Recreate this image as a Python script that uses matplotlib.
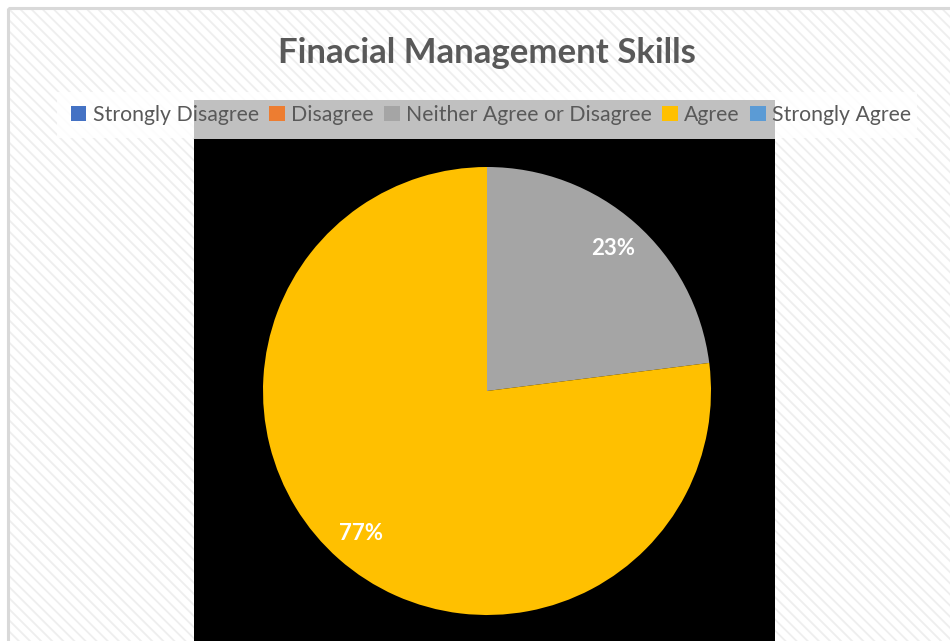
import matplotlib
matplotlib.use("Agg")
import matplotlib.pyplot as plt
from matplotlib.patches import Rectangle, Patch

# Survey responses (percent of respondents)
categories = ["Strongly Disagree", "Disagree", "Neither Agree or Disagree", "Agree", "Strongly Agree"]
shares = [0, 0, 23, 77, 0]
colors = ["#4472C4", "#ED7D31", "#A5A5A5", "#FFC000", "#5B9BD5"]
title = "Finacial Management Skills"

W, H = 950, 641
plt.rcParams["font.family"] = ["Lato", "DejaVu Sans"]
plt.rcParams["hatch.linewidth"] = 1.3

fig = plt.figure(figsize=(W / 100, H / 100), dpi=100, facecolor="white")

# Background layer in pixel coordinates
bg = fig.add_axes([0, 0, 1, 1])
bg.set_xlim(0, W)
bg.set_ylim(H, 0)
bg.axis("off")
# light diagonal-stripe chart background
bg.add_patch(Rectangle((8, 8), 1000, 700, facecolor="white", edgecolor="#eeeeee",
                       lw=0, hatch="\\\\\\"))
bg.add_patch(Rectangle((8, 8), 1000, 700, facecolor="none", edgecolor="#d9d9d9", lw=2.2))
bg.add_patch(Rectangle((57, 92), 860, 46, facecolor="white", alpha=0.85, edgecolor="none"))
bg.add_patch(Rectangle((194, 100), 581, 40, facecolor="#c0c0c0", edgecolor="none"))
bg.add_patch(Rectangle((194, 139), 581, 510, facecolor="black", edgecolor="none"))

fig.text(487 / W, 1 - 53 / H, title, ha="center", va="center",
         fontsize=25, fontweight="bold", color="#595959")

# Pie
cx, cy, r = 487, 391, 224
ax = fig.add_axes([(cx - r) / W, (H - cy - r) / H, 2 * r / W, 2 * r / H])
ax.set_facecolor("none")
wedges, _, autotexts = ax.pie(
    shares, colors=colors, startangle=90, counterclock=False, radius=1,
    autopct=lambda p: f"{p:.0f}%" if p > 0 else "", pctdistance=0.85,
    wedgeprops=dict(linewidth=0),
    textprops=dict(color="white", fontsize=16, fontweight="bold"))
ax.set_xlim(-1, 1)
ax.set_ylim(-1, 1)
ax.set_aspect("equal")
ax.axis("off")

handles = [Patch(facecolor=c, edgecolor="none") for c in colors]
fig.legend(handles, categories, loc="center", bbox_to_anchor=(491 / W, 1 - 115 / H),
           ncol=5, frameon=False, fontsize=15.3, labelcolor="#595959",
           handlelength=0.72, handleheight=0.72, handletextpad=0.3,
           columnspacing=0.5, borderpad=0)

fig.savefig("out.png", dpi=100, facecolor="white")
